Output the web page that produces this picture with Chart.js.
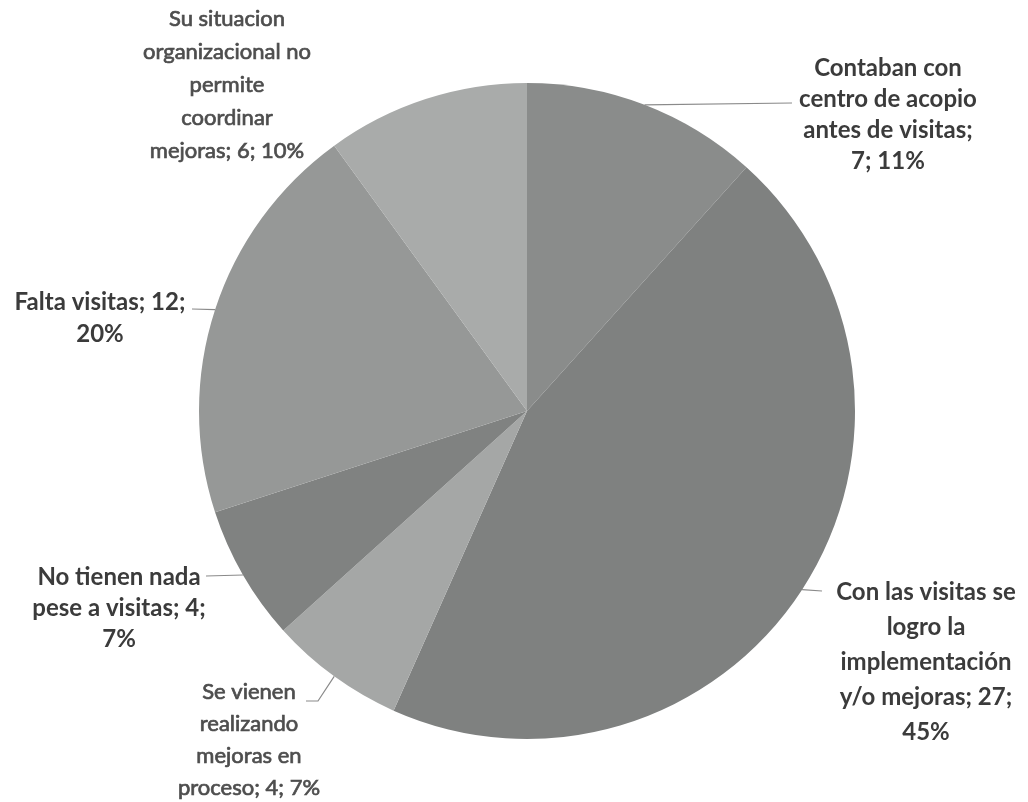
<!DOCTYPE html>
<html>
<head>
<meta charset="utf-8">
<script src="https://cdn.jsdelivr.net/npm/chart.js@4"></script>
<style>
  body { margin: 0; background: #fff; }
  #wrap { width: 1028px; height: 802px; }
</style>
</head>
<body>
<div id="wrap"><canvas id="pieChart" width="1028" height="802"></canvas></div>
<script>
// -------------------------------
// DATA
// -------------------------------
const categories = [
    "Contaban con centro de acopio antes de visitas",
    "Con las visitas se logro la implementación y/o mejoras",
    "Se vienen realizando mejoras en proceso",
    "No tienen nada pese a visitas",
    "Falta visitas",
    "Su situacion organizacional no permite coordinar mejoras"
];
const counts = [7, 27, 4, 4, 12, 6];
const percents = ["11%", "45%", "7%", "7%", "20%", "10%"];
const sliceColors = ["#8a8c8b", "#7f8180", "#a5a7a6", "#808281", "#969897", "#a9abaa"];

// label text, wrapped like the original
const labelLines = [
    ["Contaban con", "centro de acopio", "antes de visitas;", "7; 11%"],
    ["Con las visitas se", "logro la", "implementación", "y/o mejoras; 27;", "45%"],
    ["Se vienen", "realizando", "mejoras en", "proceso; 4; 7%"],
    ["No tienen nada", "pese a visitas; 4;", "7%"],
    ["Falta visitas; 12;", "20%"],
    ["Su situacion", "organizacional no", "permite", "coordinar", "mejoras; 6; 10%"]
];

// -------------------------------
// LABEL LAYOUT (text block centre x, first baseline y, leader start, optional elbow)
// -------------------------------
const labelLayout = [
    { x: 888, y: 76,  lh: 31, bold: true,  lead: [792, 103] },
    { x: 926, y: 600, lh: 35, bold: true,  lead: [822, 591] },
    { x: 249, y: 699, lh: 32, bold: false, lead: [306, 701], elbow: [318, 701] },
    { x: 119, y: 585, lh: 31, bold: true,  lead: [206, 576] },
    { x: 100, y: 310, lh: 32, bold: true,  lead: [192, 309] },
    { x: 227, y: 26,  lh: 33, bold: false, lead: null }
];

// -------------------------------
// PLUGIN: data labels + leader lines
// -------------------------------
const pieLabels = {
    id: "pieLabels",
    afterDatasetsDraw(chart) {
        const ctx = chart.ctx;
        const meta = chart.getDatasetMeta(0);
        ctx.save();
        meta.data.forEach((arc, i) => {
            const lay = labelLayout[i];
            const mid = (arc.startAngle + arc.endAngle) / 2;
            const ex = arc.x + Math.cos(mid) * arc.outerRadius;
            const ey = arc.y + Math.sin(mid) * arc.outerRadius;

            if (lay.lead) {
                ctx.strokeStyle = "#8a8a8a";
                ctx.lineWidth = 1.2;
                ctx.beginPath();
                ctx.moveTo(lay.lead[0], lay.lead[1]);
                if (lay.elbow) ctx.lineTo(lay.elbow[0], lay.elbow[1]);
                ctx.lineTo(ex, ey);
                ctx.stroke();
            }

            const color = lay.bold ? "#3b3b3b" : "#4e4e4e";
            ctx.fillStyle = color;
            ctx.strokeStyle = color;
            ctx.lineWidth = 0.7;
            ctx.font = lay.bold ? "bold 24px Lato" : "22px Lato";
            ctx.textAlign = "center";
            ctx.textBaseline = "alphabetic";
            labelLines[i].forEach((line, j) => {
                ctx.fillText(line, lay.x, lay.y + j * lay.lh);
                if (!lay.bold) ctx.strokeText(line, lay.x, lay.y + j * lay.lh);
            });
        });
        ctx.restore();
    }
};

// -------------------------------
// CHART
// -------------------------------
new Chart(document.getElementById("pieChart"), {
    type: "pie",
    data: {
        labels: categories,
        datasets: [{
            data: counts,
            backgroundColor: sliceColors,
            borderWidth: 0
        }]
    },
    options: {
        responsive: false,
        animation: false,
        layout: { padding: { left: 199, right: 173, top: 83, bottom: 63 } },
        plugins: {
            legend: { display: false },
            tooltip: { enabled: false }
        }
    },
    plugins: [pieLabels]
});
</script>
</body>
</html>
